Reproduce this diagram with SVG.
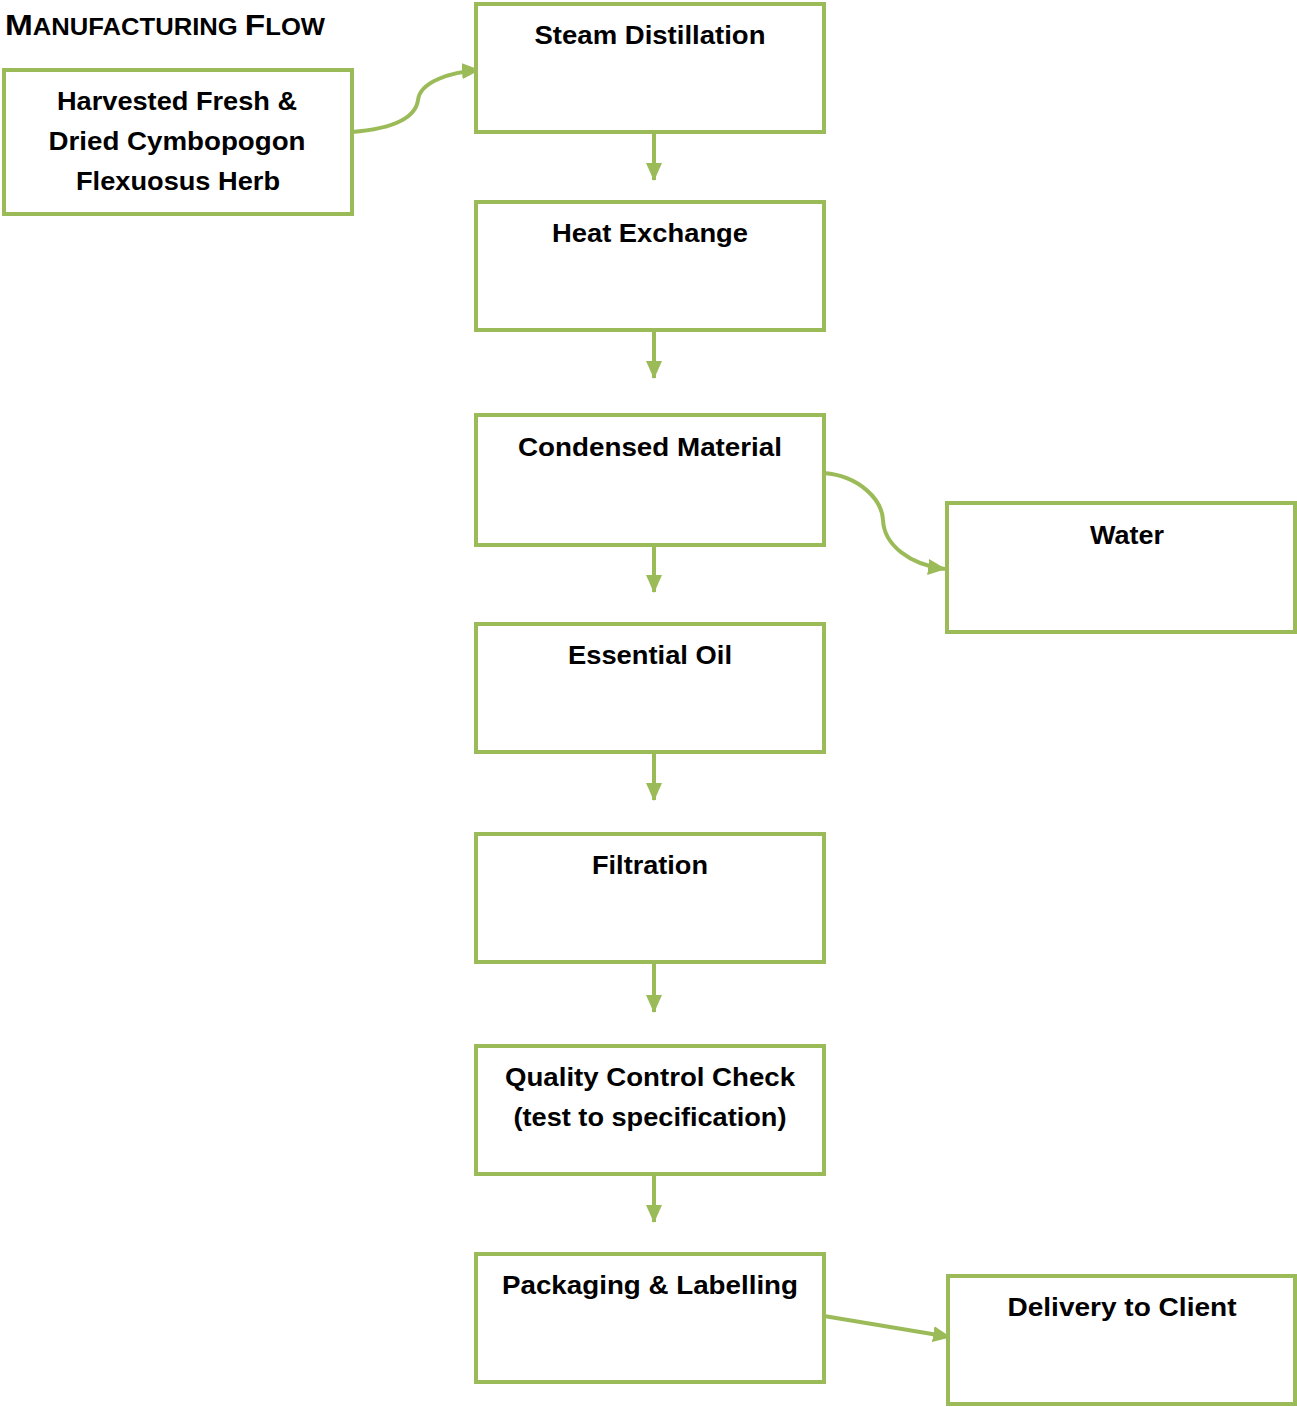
<svg xmlns="http://www.w3.org/2000/svg" width="1297" height="1407" viewBox="0 0 1297 1407">
<defs>
<style>
.box{fill:#fff;stroke:#9BBB59;stroke-width:4}
.lbl{font-family:"Liberation Sans",Arial,sans-serif;font-weight:bold;font-size:26px;fill:#000;text-anchor:middle}
.con{fill:none;stroke:#9BBB59;stroke-width:4}
.title{font-family:"Liberation Sans",Arial,sans-serif;font-weight:bold;fill:#000}
</style>
<marker id="a2" viewBox="0 0 18 16" refX="17" refY="8" markerWidth="18" markerHeight="16" orient="auto" markerUnits="userSpaceOnUse">
<path d="M0,0 L18,8 L0,16 Z" fill="#9BBB59"/>
</marker>
</defs>
<rect width="1297" height="1407" fill="#fff"/>
<text class="title" x="5" y="35" textLength="320" lengthAdjust="spacingAndGlyphs"><tspan font-size="30">M</tspan><tspan font-size="23">ANUFACTURING </tspan><tspan font-size="30">F</tspan><tspan font-size="23">LOW</tspan></text>
<g id="connectors">
<path class="con" d="M352,132 C400,128 416,115 418,100 C420,82 450,72 479,70" marker-end="url(#a2)"/>
<line class="con" x1="654" y1="132" x2="654" y2="180" marker-end="url(#a2)"/>
<line class="con" x1="654" y1="330" x2="654" y2="378" marker-end="url(#a2)"/>
<line class="con" x1="654" y1="545" x2="654" y2="592" marker-end="url(#a2)"/>
<line class="con" x1="654" y1="752" x2="654" y2="800" marker-end="url(#a2)"/>
<line class="con" x1="654" y1="962" x2="654" y2="1012" marker-end="url(#a2)"/>
<line class="con" x1="654" y1="1174" x2="654" y2="1222" marker-end="url(#a2)"/>
<path class="con" d="M824,473 C860,476 882,500 883,520 C884,545 910,565 945,569" marker-end="url(#a2)"/>
<line class="con" x1="824" y1="1316" x2="950" y2="1337" marker-end="url(#a2)"/>
</g>
<g id="harvested"><rect class="box" x="4" y="70" width="348" height="144"/>
<text class="lbl" x="177" y="110" textLength="240" lengthAdjust="spacingAndGlyphs">Harvested Fresh &amp;</text>
<text class="lbl" x="177" y="150" textLength="257" lengthAdjust="spacingAndGlyphs">Dried Cymbopogon</text>
<text class="lbl" x="178" y="190" textLength="204" lengthAdjust="spacingAndGlyphs">Flexuosus Herb</text></g>
<g id="steam"><rect class="box" x="476" y="4" width="348" height="128"/>
<text class="lbl" x="650" y="44" textLength="231" lengthAdjust="spacingAndGlyphs">Steam Distillation</text></g>
<g id="heat"><rect class="box" x="476" y="202" width="348" height="128"/>
<text class="lbl" x="650" y="242" textLength="196" lengthAdjust="spacingAndGlyphs">Heat Exchange</text></g>
<g id="condensed"><rect class="box" x="476" y="415" width="348" height="130"/>
<text class="lbl" x="650" y="456" textLength="264" lengthAdjust="spacingAndGlyphs">Condensed Material</text></g>
<g id="water"><rect class="box" x="947" y="503" width="348" height="129"/>
<text class="lbl" x="1127" y="544" textLength="74" lengthAdjust="spacingAndGlyphs">Water</text></g>
<g id="oil"><rect class="box" x="476" y="624" width="348" height="128"/>
<text class="lbl" x="650" y="664" textLength="164" lengthAdjust="spacingAndGlyphs">Essential Oil</text></g>
<g id="filtration"><rect class="box" x="476" y="834" width="348" height="128"/>
<text class="lbl" x="650" y="874" textLength="116" lengthAdjust="spacingAndGlyphs">Filtration</text></g>
<g id="qc"><rect class="box" x="476" y="1046" width="348" height="128"/>
<text class="lbl" x="650" y="1086" textLength="290" lengthAdjust="spacingAndGlyphs">Quality Control Check</text>
<text class="lbl" x="650" y="1126" textLength="273" lengthAdjust="spacingAndGlyphs">(test to specification)</text></g>
<g id="packaging"><rect class="box" x="476" y="1254" width="348" height="128"/>
<text class="lbl" x="650" y="1294" textLength="296" lengthAdjust="spacingAndGlyphs">Packaging &amp; Labelling</text></g>
<g id="delivery"><rect class="box" x="948" y="1276" width="347" height="128"/>
<text class="lbl" x="1122" y="1316" textLength="229" lengthAdjust="spacingAndGlyphs">Delivery to Client</text></g>
</svg>
